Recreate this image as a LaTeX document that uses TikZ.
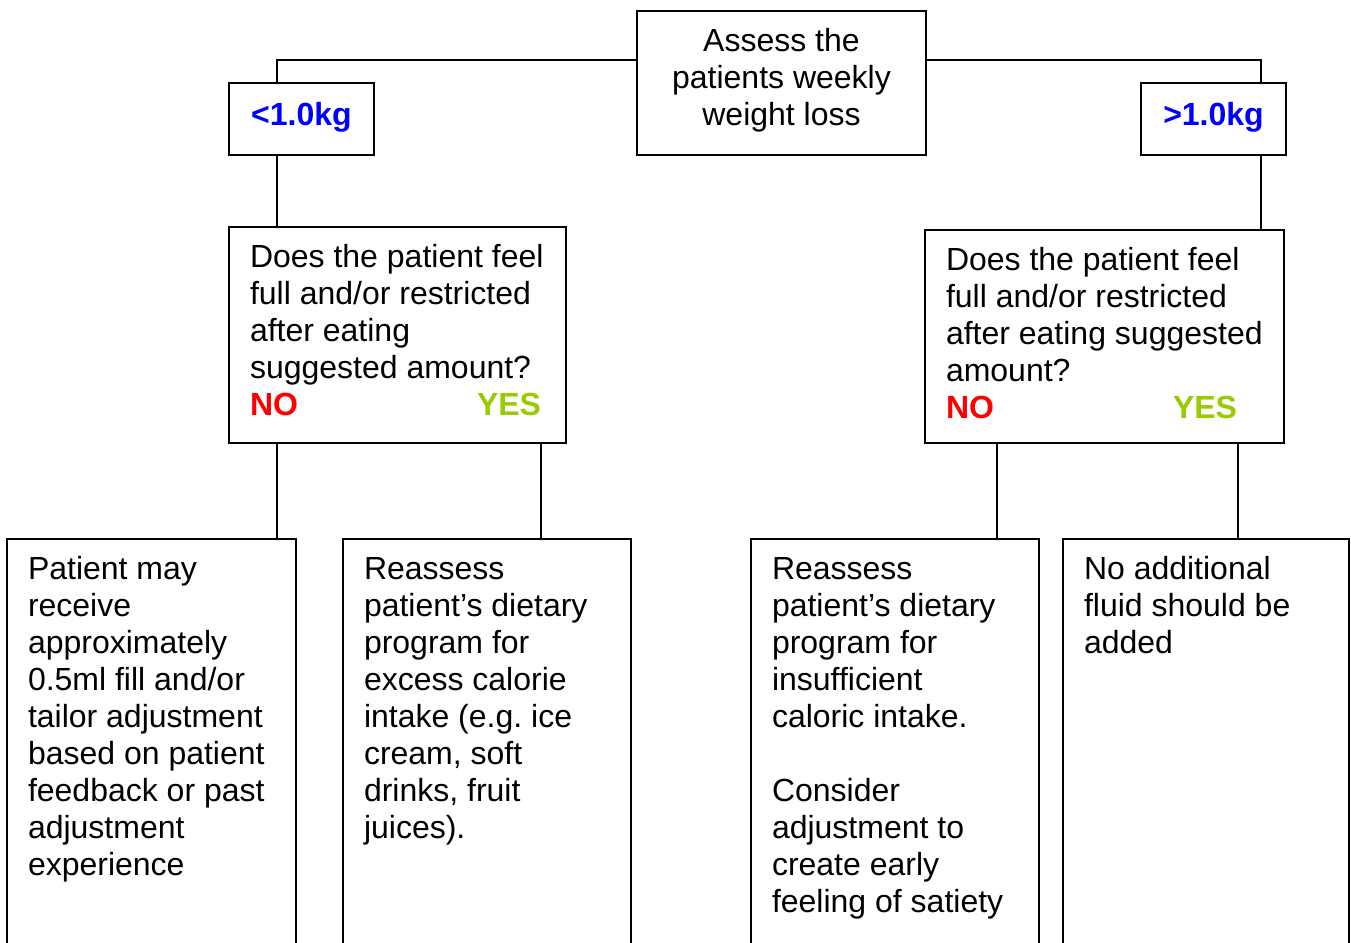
\documentclass[tikz,border=0pt]{standalone}
\usepackage{fontspec}
\setmainfont{Liberation Sans}
\usepackage{tikz}
\definecolor{yesgreen}{RGB}{153,204,0}
\newcommand{\boxbody}[4][\raggedright]{\parbox[c][#3][t]{#2}{#1\rule{0pt}{20pt}#4}}
\newcommand{\answers}{\makebox[113.5pt][l]{\textcolor{red}{\bfseries NO}}\textcolor{yesgreen}{\bfseries YES}}
\tikzset{
  flowbox/.style={draw, line width=1pt, anchor=north west, inner xsep=10.5pt, inner ysep=0pt, outer sep=0pt},
  kgbox/.style={flowbox, text=blue, font=\fontsize{16}{18.5}\selectfont\bfseries},
  link/.style={draw, line width=1pt}
}

\begin{document}
\begin{tikzpicture}[x=0.5pt, y=-0.5pt, font=\fontsize{16}{18.5}\selectfont]
    \useasboundingbox (0,0) rectangle (1351,943);
    \clip (0,0) rectangle (1351,943);

    % top question and the two weight classes
    \node[flowbox] (assess) at (637,11) {\boxbody[\centering]{123.5pt}{72pt}{Assess the\\patients weekly\\weight loss}};
    \node[kgbox] (lowkg) at (229,83) {\boxbody[\centering]{51.5pt}{36pt}{\rule{0pt}{21pt}<1.0kg}};
    \node[kgbox] (highkg) at (1141,83) {\boxbody[\centering]{51.5pt}{36pt}{\rule{0pt}{21pt}>1.0kg}};

    % fullness questions
    \node[flowbox] (lowq) at (229,227) {\boxbody{147.5pt}{108pt}{Does the patient feel\\full and/or restricted\\after eating\\suggested amount?\\\answers}};
    \node[flowbox] (highq) at (925,230) {\boxbody{158.5pt}{106.5pt}{Does the patient feel\\full and/or restricted\\after eating suggested\\amount?\\\answers}};

    % outcomes, running off the bottom edge
    \node[flowbox] (lowno) at (7,539) {\boxbody{123.5pt}{210.5pt}{Patient may\\receive\\approximately\\0.5ml fill and/or\\tailor adjustment\\based on patient\\feedback or past\\adjustment\\experience}};
    \node[flowbox] (lowyes) at (343,539) {\boxbody{123pt}{210.5pt}{Reassess\\patient’s dietary\\program for\\excess calorie\\intake (e.g.\ ice\\cream, soft\\drinks, fruit\\juices).}};
    \node[flowbox] (highno) at (751,539) {\boxbody{123pt}{210.5pt}{Reassess\\patient’s dietary\\program for\\insufficient\\caloric intake.\\\mbox{}\\Consider\\adjustment to\\create early\\feeling of satiety}};
    \node[flowbox] (highyes) at (1063,539) {\boxbody{122pt}{210.5pt}{No additional\\fluid should be\\added}};

    % connectors
    \coordinate (lowbend) at (277,60);
    \coordinate (highbend) at (1261,60);
    \coordinate (lowyesline) at (541,443);
    \coordinate (highnoline) at (997,443);
    \coordinate (highyesline) at (1238,443);

    \draw[link] (assess.west |- lowbend) -- (lowbend) -- (lowbend |- lowkg.north);
    \draw[link] (lowbend |- lowkg.south) -- (lowbend |- lowq.north);
    \draw[link] (lowbend |- lowq.south) -- (lowbend |- lowno.north);
    \draw[link] (lowyesline |- lowq.south) -- (lowyesline |- lowyes.north);

    \draw[link] (assess.east |- highbend) -- (highbend) -- (highbend |- highkg.north);
    \draw[link] (highbend |- highkg.south) -- (highbend |- highq.north);
    \draw[link] (highnoline |- highq.south) -- (highnoline |- highno.north);
    \draw[link] (highyesline |- highq.south) -- (highyesline |- highyes.north);
\end{tikzpicture}
\end{document}
